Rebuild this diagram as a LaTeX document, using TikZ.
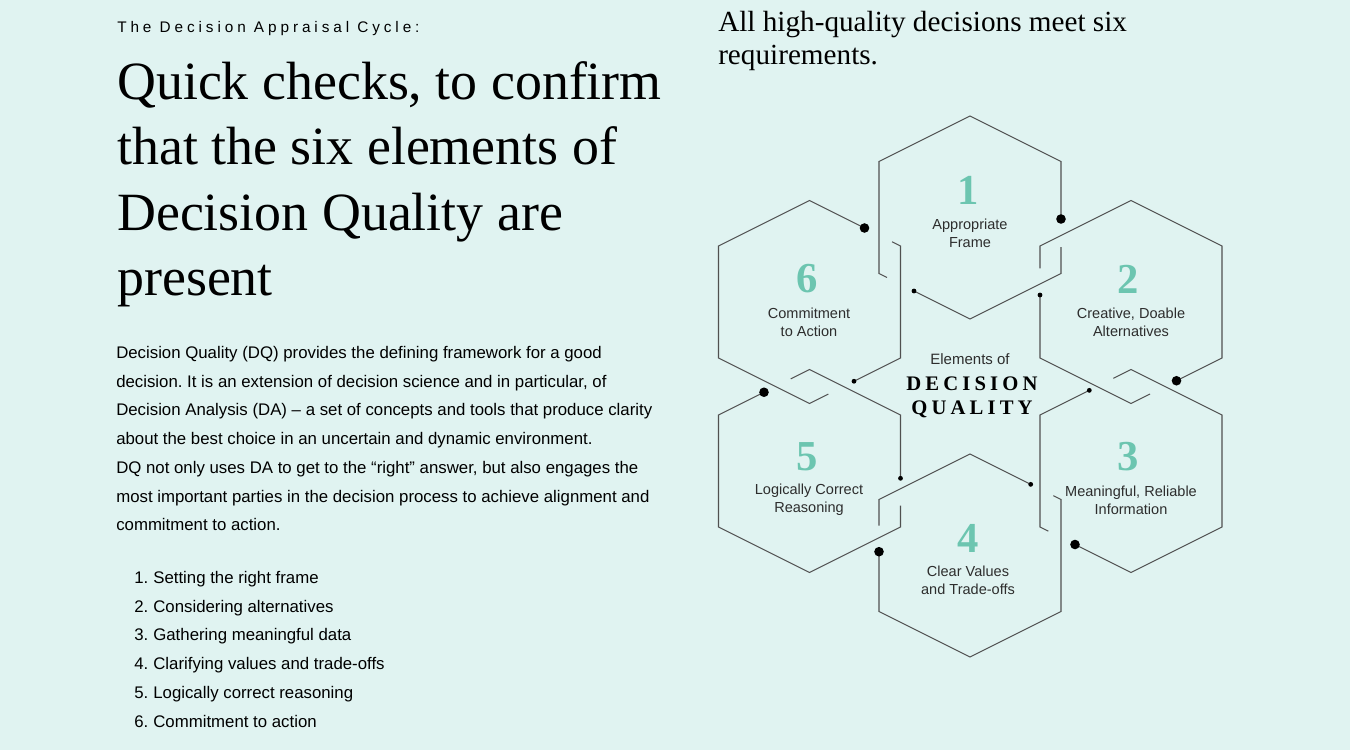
\documentclass[tikz,border=0pt]{standalone}
\usepackage{fontspec}
\setmainfont{Liberation Serif}
\setsansfont{Liberation Sans}
\usepackage{tikz}
\definecolor{mintbg}{RGB}{224,243,241}
\definecolor{hexteal}{RGB}{108,197,176}
\definecolor{hexgray}{RGB}{80,80,80}
\definecolor{labelgray}{RGB}{45,45,45}

\begin{document}
\frenchspacing
\begin{tikzpicture}[x=0.75pt, y=-0.75pt,
    hexline/.style={draw=hexgray, line width=0.8pt},
    hexnum/.style={inner sep=0pt, text=hexteal, font=\fontsize{32}{32}\selectfont\bfseries},
    hexlabel/.style={inner sep=0pt, align=center, text=labelgray, font=\sffamily\fontsize{10.9}{13.5}\selectfont},
    bodyline/.style={inner sep=0pt, anchor=base west, font=\sffamily\fontsize{12.6}{14}\selectfont}]
    % Background
    \fill[mintbg] (0,0) rectangle (1350,750);

    % Left column: kicker & heading
    \node[inner sep=0pt, anchor=base west, font=\sffamily\fontsize{11.5}{13}\selectfont\addfontfeature{LetterSpace=25.5}] (kicker) at (117,32) {The Decision Appraisal Cycle:};
    \node[inner sep=0pt, anchor=base west, font=\fontsize{40.4}{48}\selectfont] (head1) at (117,99) {Quick checks, to confirm};
    \node[inner sep=0pt, anchor=base west, font=\fontsize{40.4}{48}\selectfont] (head2) at (117,164.5) {that the six elements of};
    \node[inner sep=0pt, anchor=base west, font=\fontsize{40.4}{48}\selectfont] (head3) at (117,230) {Decision Quality are};
    \node[inner sep=0pt, anchor=base west, font=\fontsize{40.4}{48}\selectfont] (head4) at (117,295.5) {present};

    % Left column: paragraph
    \node[bodyline] (para1) at (116,358.5) {Decision Quality (DQ) provides the defining framework for a good};
    \node[bodyline] (para2) at (116,387.2) {decision. It is an extension of decision science and in particular, of};
    \node[bodyline] (para3) at (116,415.9) {Decision Analysis (DA) – a set of concepts and tools that produce clarity};
    \node[bodyline] (para4) at (116,444.6) {about the best choice in an uncertain and dynamic environment.};
    \node[bodyline] (para5) at (116,473.3) {DQ not only uses DA to get to the “right” answer, but also engages the};
    \node[bodyline] (para6) at (116,502) {most important parties in the decision process to achieve alignment and};
    \node[bodyline] (para7) at (116,530.7) {commitment to action.};

    % Left column: numbered list
    \node[bodyline] (item1) at (134,583.5) {1.\hspace{3.8pt}Setting the right frame};
    \node[bodyline] (item2) at (134,612.2) {2.\hspace{3.8pt}Considering alternatives};
    \node[bodyline] (item3) at (134,640.9) {3.\hspace{3.8pt}Gathering meaningful data};
    \node[bodyline] (item4) at (134,669.6) {4.\hspace{3.8pt}Clarifying values and trade-offs};
    \node[bodyline] (item5) at (134,698.3) {5.\hspace{3.8pt}Logically correct reasoning};
    \node[bodyline] (item6) at (134,727) {6.\hspace{3.8pt}Commitment to action};

    % Right column: heading
    \node[inner sep=0pt, anchor=base west, font=\fontsize{21.9}{24}\selectfont] (req1) at (718,31.5) {All high-quality decisions meet six};
    \node[inner sep=0pt, anchor=base west, font=\fontsize{21.9}{24}\selectfont] (req2) at (718,64) {requirements.};

    % Hexagon centres
    \coordinate (hexA) at (970,217.5);
    \coordinate (hexB) at (1131,302);
    \coordinate (hexC) at (1131,471);
    \coordinate (hexD) at (970,555.5);
    \coordinate (hexE) at (809.5,471);
    \coordinate (hexF) at (809.5,302);

    % Hexagon 1
    \begin{scope}[shift={(hexA)}]
        \draw[hexline] (91,1.5) -- (91,-56) -- (0,-101.5) -- (-91,-56) -- (-91,56) -- (-83,60);
        \draw[hexline] (-56,73.5) -- (0,101.5) -- (91,56) -- (91,29.5);
        \fill (91,1.5) circle (3.6pt);
        \fill (-56,73.5) circle (1.8pt);
    \end{scope}

    % Hexagon 2
    \begin{scope}[shift={(hexB)}]
        \draw[hexline] (45.5,78.75) -- (91,56) -- (91,-56) -- (0,-101.5) -- (-91,-56) -- (-91,-33.7);
        \draw[hexline] (-91,-7) -- (-91,56) -- (0,101.5) -- (19,92);
        \fill (45.5,78.75) circle (3.6pt);
        \fill (-91,-7) circle (1.8pt);
    \end{scope}

    % Hexagon 3
    \begin{scope}[shift={(hexC)}]
        \draw[hexline] (-56,73.5) -- (0,101.5) -- (91,56) -- (91,-56) -- (0,-101.5) -- (-17.7,-92.65);
        \draw[hexline] (-41.7,-80.65) -- (-91,-56) -- (-91,56) -- (-82.7,60.15);
        \fill (-56,73.5) circle (3.6pt);
        \fill (-41.7,-80.65) circle (1.8pt);
    \end{scope}

    % Hexagon 4
    \begin{scope}[shift={(hexD)}]
        \draw[hexline] (-91,-3.8) -- (-91,56) -- (0,101.5) -- (91,56) -- (91,-56) -- (83.3,-59.85);
        \draw[hexline] (60.7,-71.15) -- (0,-101.5) -- (-91,-56) -- (-91,-29.8);
        \fill (-91,-3.8) circle (3.6pt);
        \fill (60.7,-71.15) circle (1.8pt);
    \end{scope}

    % Hexagon 5
    \begin{scope}[shift={(hexE)}]
        \draw[hexline] (-45.5,-78.75) -- (-91,-56) -- (-91,56) -- (0,101.5) -- (91,56) -- (91,34.7);
        \draw[hexline] (91,7.3) -- (91,-56) -- (0,-101.5) -- (-18.8,-92.1);
        \fill (-45.5,-78.75) circle (3.6pt);
        \fill (91,7.3) circle (1.8pt);
    \end{scope}

    % Hexagon 6
    \begin{scope}[shift={(hexF)}]
        \draw[hexline] (55,-74) -- (0,-101.5) -- (-91,-56) -- (-91,56) -- (0,101.5) -- (18.8,92.1);
        \draw[hexline] (44.5,79.25) -- (91,56) -- (91,-56) -- (82.5,-60.25);
        \fill (55,-74) circle (3.6pt);
        \fill (44.5,79.25) circle (1.8pt);
    \end{scope}

    % Numbers & labels
    \node[hexnum] (num1) at (968,190) {1};
    \node[hexlabel] (lab1) at (970,233) {Appropriate\\Frame};
    \node[hexnum] (num2) at (1128,279) {2};
    \node[hexlabel] (lab2) at (1131,322) {Creative, Doable\\Alternatives};
    \node[hexnum] (num3) at (1128,457) {3};
    \node[hexlabel] (lab3) at (1131,500) {Meaningful, Reliable\\Information};
    \node[hexnum] (num4) at (968,538) {4};
    \node[hexlabel] (lab4) at (968,580) {Clear Values\\and Trade-offs};
    \node[hexnum] (num5) at (807,457) {5};
    \node[hexlabel] (lab5) at (809,500) {Logically Correct\\Reasoning};
    \node[hexnum] (num6) at (807,279) {6};
    \node[hexlabel] (lab6) at (809,322) {Commitment\\to Action};

    % Centre title
    \node[inner sep=0pt, text=labelgray, font=\sffamily\fontsize{11.25}{13}\selectfont] (elements) at (970,359) {Elements of};
    \node[inner sep=0pt, font=\fontsize{15.5}{18}\selectfont\bfseries\addfontfeature{LetterSpace=20}] (decision) at (972,384) {DECISION};
    \node[inner sep=0pt, font=\fontsize{15.5}{18}\selectfont\bfseries\addfontfeature{LetterSpace=20}] (quality) at (972,409) {QUALITY};
\end{tikzpicture}
\end{document}
